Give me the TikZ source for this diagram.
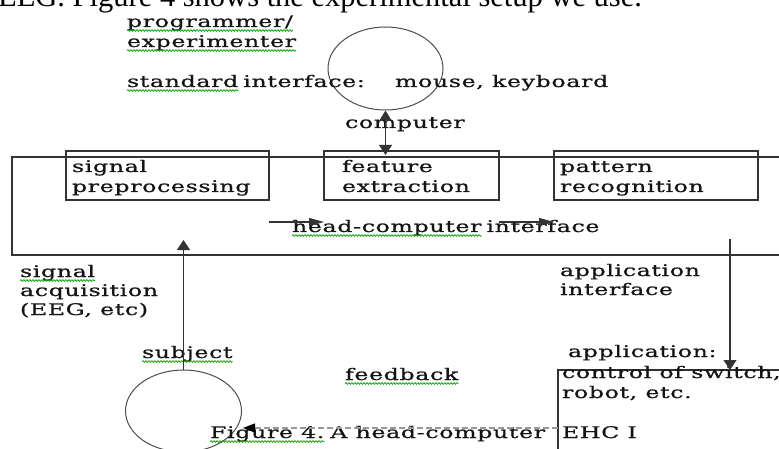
\documentclass[tikz,border=0pt]{standalone}
\usepackage{fontspec}
\setmainfont{DejaVu Serif}[FakeStretch=1.48,LetterSpace=4,FakeBold=0.8]
\newfontfamily\timesfont{Liberation Serif}
\usetikzlibrary{arrows.meta,decorations.pathmorphing,shapes.geometric,positioning}
\begin{document}
\begin{tikzpicture}[x=1pt,y=-1pt,
  lbl/.style={anchor=base west,inner sep=0pt,outer sep=0pt,font=\fontsize{16}{20}\selectfont,text=black!92},
  nxt/.style={lbl,anchor=base west,xshift=#1},
  box/.style={draw=black!80,line width=1.1pt,inner sep=0pt,outer sep=0pt,anchor=north west},
  ln/.style={draw=black!80,line width=1.1pt},
  varr/.style={ln,-{Triangle[length=10pt,width=13pt]}},
  harr/.style={ln,-{Triangle[length=15pt,width=8pt]}},
  dblarr/.style={ln,{Triangle[length=10pt,width=12pt]}-{Triangle[length=10pt,width=13pt]}},
  oval/.style={ellipse,draw=black!70,line width=1pt,inner sep=0pt},
  wavy/.style={draw=green!65!black,line width=0.7pt,decorate,decoration={snake,amplitude=0.9pt,segment length=3pt}},
]
\useasboundingbox (0,0) rectangle (779,449);
\clip (0,0) rectangle (779,449);

% intro sentence, cut at the top
\node[anchor=base west,inner sep=0pt,font=\timesfont\fontsize{30.5}{34}\selectfont] (intro) at (-2,6.5) {EEG. Figure 4 shows the experimental setup we use.};

% shapes
\node[oval,minimum width=115pt,minimum height=83pt] (prog) at (385.5,68.5) {};
\node[oval,minimum width=116pt,minimum height=82pt] (subj) at (183.5,411) {};
\node[box,minimum width=800pt,minimum height=98pt] (hci) at (12,157) {};
\node[box,minimum width=203pt,minimum height=49pt] (sp) at (66,151) {};
\node[box,minimum width=175pt,minimum height=49pt] (fe) at (324,151) {};
\node[box,minimum width=204pt,minimum height=49pt] (pr) at (554,151) {};
\node[box,minimum width=300pt,minimum height=120pt] (app) at (558,370) {};

% texts
\node[lbl] (t1) at (127,27) {programmer/};
\node[lbl] (t2) at (127,47) {experimenter};
\node[lbl] (t3) at (127,87) {standard};
\node[nxt=5pt] (t3b) at (t3.base east) {interface:};
\node[lbl] (t4) at (395,87) {mouse, keyboard};
\node[lbl] (t5) at (345,128) {computer};
\node[lbl] (t6) at (72,172) {signal};
\node[lbl] (t7) at (72,192) {preprocessing};
\node[lbl] (t8) at (342,172) {feature};
\node[lbl] (t9) at (342,192) {extraction};
\node[lbl] (t10) at (560,172) {pattern};
\node[lbl] (t11) at (560,192) {recognition};
\node[lbl] (t12) at (292,232) {head-computer};
\node[nxt=5pt] (t12b) at (t12.base east) {interface};
\node[lbl] (t13) at (20,277) {signal};
\node[lbl] (t14) at (20,296) {acquisition};
\node[lbl] (t15) at (20,315) {(EEG, etc)};
\node[lbl] (t16) at (560,276) {application};
\node[lbl] (t17) at (560,295) {interface};
\node[lbl] (t18) at (142,358) {subject};
\node[lbl] (t19) at (345,380) {feedback};
\node[lbl] (t20) at (568,357) {application:};
\node[lbl] (t21) at (562,378) {control of switch,};
\node[lbl] (t22) at (562,398) {robot, etc.};
\node[lbl] (t23) at (210,438) {Figure 4.};
\node[nxt=6pt] (t23b) at (t23.base east) {A head-computer};
\node[lbl] (t24) at (562,438) {EHC I};

% wavy underlines
\foreach \n in {t1,t2,t3,t12,t13,t18,t19,t23}
  \draw[wavy] ([yshift=-3.5pt]\n.base west) -- ([yshift=-3.5pt]\n.base east);

% connectors
\coordinate (hrow) at (0,222);
\coordinate (upend) at (183.5,240);
\coordinate (downstart) at (730,239);
\coordinate (fbstart) at (558,428);
\coordinate (fbend) at (243,428);
\draw[dblarr] (prog.south) -- ([yshift=-4pt]fe.north -| prog.south);
\draw[harr] (sp.east |- hrow) -- (fe.west |- hrow);
\draw[harr] (fe.east |- hrow) -- (pr.west |- hrow);
\draw[varr] (subj.north) -- (upend);
\draw[varr] (downstart) -- (downstart |- app.north);
\draw[draw=black!40,line width=1.3pt,dash pattern=on 6pt off 3pt,-{Triangle[length=12pt,width=9pt,color=black]}] (fbstart) -- (fbend);
\end{tikzpicture}
\end{document}
